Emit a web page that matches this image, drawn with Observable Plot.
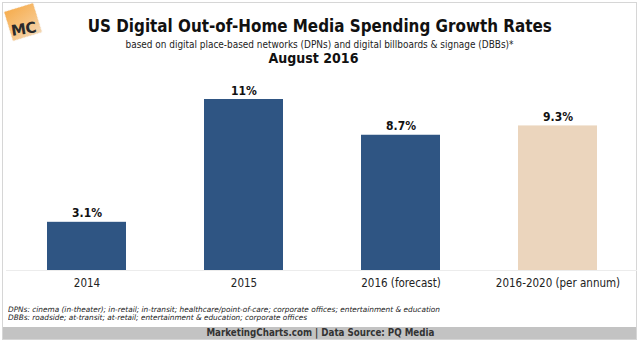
<!DOCTYPE html>
<html><head><meta charset="utf-8">
<script src="https://cdn.jsdelivr.net/npm/d3@7"></script>
<script src="https://cdn.jsdelivr.net/npm/@observablehq/plot@0.6"></script>
<style>
html,body{margin:0;padding:0;background:#fff;}
#wrap{position:relative;width:640px;height:342px;overflow:hidden;font-family:"DejaVu Sans Condensed","DejaVu Sans",Verdana,sans-serif;color:#111;}
#frame{position:absolute;left:2px;top:2px;width:635px;height:338px;border:1px solid #d6d6d6;box-sizing:border-box;}
.line{position:absolute;white-space:nowrap;}
.line span{display:inline-block;transform-origin:0 50%;}
.c{left:0;width:640px;text-align:center;}
.c span{transform-origin:50% 50%;}
#logo{position:absolute;left:8px;top:7px;width:30px;height:30px;transform:rotate(-17deg);background:linear-gradient(160deg,#f6ad4f 0%,#f7c27e 55%,#f3d6b2 100%);box-shadow:0 0 1px rgba(200,140,60,.5);}
#logoT{position:absolute;left:11px;top:20px;font:bold 15px "DejaVu Sans",sans-serif;color:#2a2a2a;transform:rotate(-9deg);letter-spacing:-0.5px;}
#footer{position:absolute;left:3px;top:327px;width:633px;height:12px;background:#c3c3c3;}
#chart{position:absolute;left:0;top:85px;}
</style></head>
<body><div id="wrap">
<div id="frame"></div>
<div id="footer"></div>
<div id="logo"></div><div id="logoT">MC</div>
<div class="line c" id="title" style="top:15px;font-weight:bold;font-size:18px;line-height:22px;" data-w="464"><span>US Digital Out-of-Home Media Spending Growth Rates</span></div>
<div class="line c" id="sub" style="top:38px;font-size:10px;line-height:14px;color:#222;" data-w="388"><span>based on digital place-based networks (DPNs) and digital billboards &amp; signage (DBBs)*</span></div>
<div class="line c" id="date" style="top:49px;font-weight:bold;font-size:14.5px;line-height:18px;left:-7px;" data-w="90"><span>August 2016</span></div>
<div id="chart"></div>
<div class="line" style="left:8px;top:306px;font-size:7.5px;line-height:8px;font-style:italic;color:#222;" data-w="432"><span>DPNs: cinema (in-theater); in-retail; in-transit; healthcare/point-of-care; corporate offices; entertainment &amp; education</span></div>
<div class="line" style="left:8px;top:314px;font-size:7.5px;line-height:8px;font-style:italic;color:#222;" data-w="299"><span>DBBs: roadside; at-transit; at-retail; entertainment &amp; education; corporate offices</span></div>
<div class="line c" style="top:326px;font-weight:bold;font-size:11px;line-height:13px;color:#333;" data-w="228"><span>MarketingCharts.com | Data Source: PQ Media</span></div>
</div>
<script>
const categories = ["2014", "2015", "2016 (forecast)", "2016-2020 (per annum)"];
const growthRates = [3.1, 11, 8.7, 9.3];
const valueLabels = ["3.1%", "11%", "8.7%", "9.3%"];

const data = categories.map((c, i) => ({category: c, value: growthRates[i], label: valueLabels[i]}));

const chart = Plot.plot({
  width: 640,
  height: 210,
  marginTop: 14,
  marginBottom: 25,
  marginLeft: 6,
  marginRight: 3,
  style: {fontFamily: '"DejaVu Sans Condensed","DejaVu Sans",Verdana,sans-serif', background: "transparent", color: "#111"},
  x: {domain: categories, paddingInner: 0.5, paddingOuter: 0.25, label: null},
  y: {domain: [0, 11], axis: null},
  color: {domain: categories, range: ["#2f5583", "#2f5583", "#2f5583", "#ebd5bd"]},
  marks: [
    Plot.ruleY([0], {stroke: "#ececec", strokeWidth: 1}),
    Plot.barY(data, {x: "category", y: "value", fill: "category"}),
    Plot.text(data, {x: "category", y: "value", text: "label", lineAnchor: "bottom", dy: -5, fontWeight: "bold", fontSize: 12, fill: "#111"}),
    Plot.axisX({tickSize: 0, tickPadding: 8, fontSize: 11.5, label: null, fill: "#222"})
  ]
});
document.getElementById("chart").appendChild(chart);

// horizontal fit of HTML text lines to reference widths
document.querySelectorAll(".line[data-w]").forEach(el => {
  const s = el.querySelector("span");
  const w = s.getBoundingClientRect().width;
  const target = +el.dataset.w;
  s.style.transform = `scaleX(${target / w})`;
});
</script>
</body></html>
